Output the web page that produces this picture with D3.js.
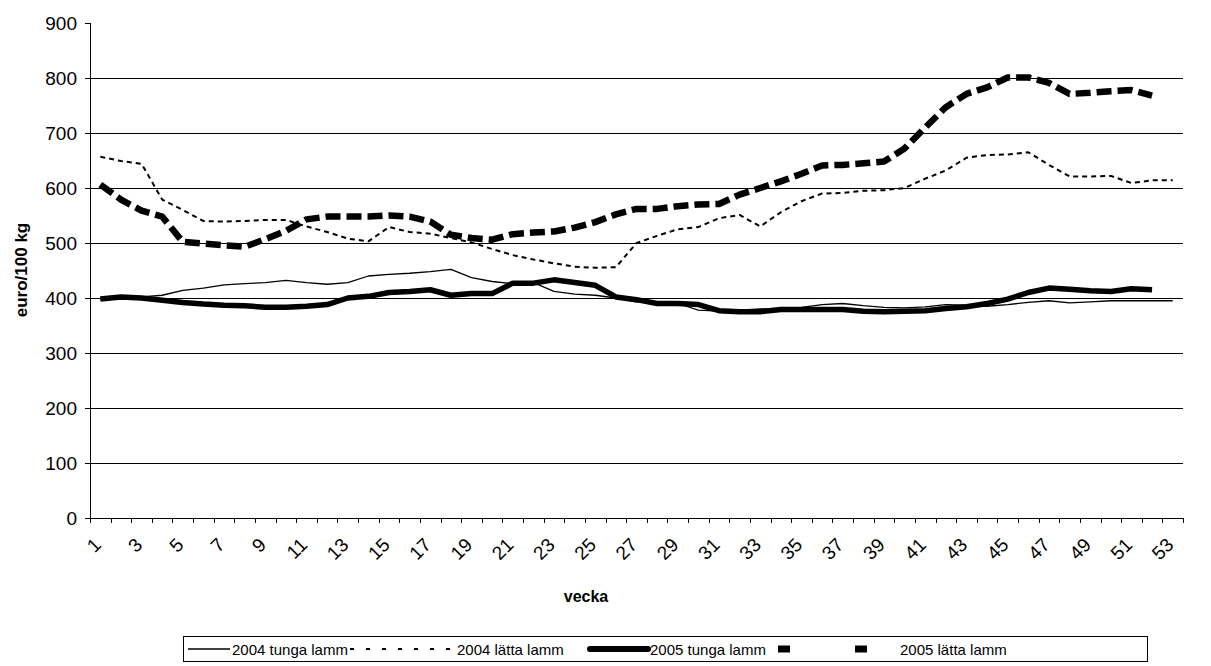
<!DOCTYPE html>
<html>
<head>
  <meta charset="utf-8">
  <script src="https://d3js.org/d3.v7.min.js"></script>
  <style>
      body { margin: 0; background-color: white; }
      svg { display: block; font-family: "Liberation Sans", Arial, sans-serif; }
  </style>
</head>
<body>
<script>
var width = 1211;
var height = 666;

// veckor 1-53
var weeks = [1,2,3,4,5,6,7,8,9,10,11,12,13,14,15,16,17,18,19,20,21,22,23,24,25,26,27,
             28,29,30,31,32,33,34,35,36,37,38,39,40,41,42,43,44,45,46,47,48,49,50,51,52,53];
var weekLabels = [1,3,5,7,9,11,13,15,17,19,21,23,25,27,29,31,33,35,37,39,41,43,45,47,49,51,53];
var yTicks = [0,100,200,300,400,500,600,700,800,900];

var tunga2004 = [397,400,402,405,414,418,424,426,428,432,428,425,428,440,443,445,448,452,437,430,
                 426,428,412,407,405,400,393,392,390,378,376,378,380,380,383,388,390,386,383,382,
                 384,388,387,385,388,392,395,391,393,395,395,395,395];
var latta2004 = [657,649,644,579,560,540,539,540,542,542,530,520,508,503,529,520,517,509,501,489,
                 478,470,463,457,455,456,500,513,525,529,545,551,530,556,576,590,591,595,596,600,
                 617,632,655,660,661,665,642,621,621,622,609,614,614];
var tunga2005 = [398,402,400,396,392,389,387,386,383,383,385,388,400,403,410,412,415,405,408,408,
                 427,427,433,428,423,402,397,390,390,388,377,375,375,379,379,379,379,376,375,376,
                 377,381,384,390,398,410,418,416,413,412,417,415];
var latta2005 = [606,579,559,548,502,499,496,493,507,522,543,548,548,548,550,548,539,515,509,506,
                 516,519,521,528,538,552,562,562,567,570,571,588,600,612,626,641,642,645,648,672,
                 710,747,771,783,801,801,791,771,773,776,778,768];

var seriesNames = ["2004 tunga lamm", "2004 lätta lamm", "2005 tunga lamm", "2005 lätta lamm"];

var plotLeft = 90, plotRight = 1183, plotBottom = 518, plotTop = 23;

var x = d3.scaleBand()
    .domain(weeks)
    .range([plotLeft, plotRight]);
var y = d3.scaleLinear()
    .domain([0, 900])
    .range([plotBottom, plotTop]);

var svg = d3.select("body").append("svg")
    .attr("width", width)
    .attr("height", height);

// stodlinjer
svg.append("g")
    .selectAll("line")
    .data(yTicks.filter(function(d) { return d > 0 && d < 900; }))
    .enter().append("line")
    .attr("x1", plotLeft).attr("x2", plotRight)
    .attr("y1", function(d) { return Math.round(y(d)) + 0.5; })
    .attr("y2", function(d) { return Math.round(y(d)) + 0.5; })
    .attr("stroke", "#000").attr("stroke-width", 1);

// y-axel
var yAxis = svg.append("g");
yAxis.append("line")
    .attr("x1", plotLeft + 0.5).attr("x2", plotLeft + 0.5)
    .attr("y1", plotTop).attr("y2", plotBottom + 0.5)
    .attr("stroke", "#000");
yAxis.selectAll("line.tick")
    .data(yTicks)
    .enter().append("line")
    .attr("class", "tick")
    .attr("x1", plotLeft - 5).attr("x2", plotLeft)
    .attr("y1", function(d) { return Math.round(y(d)) + 0.5; })
    .attr("y2", function(d) { return Math.round(y(d)) + 0.5; })
    .attr("stroke", "#000");
yAxis.selectAll("text")
    .data(yTicks)
    .enter().append("text")
    .attr("x", 77)
    .attr("y", function(d) { return y(d) + 7; })
    .attr("text-anchor", "end")
    .attr("font-size", 19)
    .text(function(d) { return d; });

// x-axel
var xAxis = svg.append("g");
xAxis.append("line")
    .attr("x1", plotLeft).attr("x2", plotRight)
    .attr("y1", plotBottom + 0.5).attr("y2", plotBottom + 0.5)
    .attr("stroke", "#000");
xAxis.selectAll("line.tick")
    .data(weeks.concat([54]))
    .enter().append("line")
    .attr("class", "tick")
    .attr("x1", function(d) { return Math.round(d <= 53 ? x(d) : plotRight) + 0.5; })
    .attr("x2", function(d) { return Math.round(d <= 53 ? x(d) : plotRight) + 0.5; })
    .attr("y1", plotBottom).attr("y2", plotBottom + 5)
    .attr("stroke", "#000");
xAxis.selectAll("text")
    .data(weekLabels)
    .enter().append("text")
    .attr("transform", function(d) {
        return "translate(" + (x(d) + x.bandwidth() / 2 + 2) + ",546) rotate(-45)";
    })
    .attr("text-anchor", "end")
    .attr("font-size", 19)
    .text(function(d) { return d; });

// axeltitlar
svg.append("text")
    .attr("x", 586).attr("y", 602)
    .attr("text-anchor", "middle")
    .attr("font-size", 16).attr("font-weight", "bold")
    .text("vecka");
svg.append("text")
    .attr("transform", "translate(27,270) rotate(-90)")
    .attr("text-anchor", "middle")
    .attr("font-size", 17).attr("font-weight", "bold")
    .text("euro/100 kg");

// linjer
var line = d3.line()
    .x(function(d, i) { return x(weeks[i]) + x.bandwidth() / 2; })
    .y(function(d) { return y(d); });

var styles = [
    { data: tunga2004, w: 1.3, dash: null },
    { data: latta2004, w: 2, dash: "5,4" },
    { data: tunga2005, w: 5.5, dash: null },
    { data: latta2005, w: 6.5, dash: "15,6" }
];

svg.append("g")
    .selectAll("path")
    .data(styles)
    .enter().append("path")
    .attr("d", function(d) { return line(d.data); })
    .attr("fill", "none")
    .attr("stroke", "#000")
    .attr("stroke-width", function(d) { return d.w; })
    .attr("stroke-dasharray", function(d) { return d.dash; })
    .attr("stroke-linejoin", "round");

// teckenförklaring
var legend = svg.append("g");
legend.append("rect")
    .attr("x", 183.5).attr("y", 636.5)
    .attr("width", 964).attr("height", 25)
    .attr("fill", "white").attr("stroke", "#000");

var legendItems = [
    { name: seriesNames[0], x1: 188, x2: 230, w: 1.3, dash: null, cap: "butt" },
    { name: seriesNames[1], x1: 350, x2: 450, w: 2, dash: "4,12", cap: "butt" },
    { name: seriesNames[2], x1: 590, x2: 648, w: 6, dash: null, cap: "round" },
    { name: seriesNames[3], x1: 778, x2: 868, w: 7, dash: "12,65", cap: "butt" }
];
var textX = [232, 457, 650, 900];
var li = legend.selectAll("g.item")
    .data(legendItems)
    .enter().append("g")
    .attr("class", "item");
li.append("line")
    .attr("x1", function(d) { return d.x1; })
    .attr("x2", function(d) { return d.x2; })
    .attr("y1", 649).attr("y2", 649)
    .attr("stroke", "#000")
    .attr("stroke-width", function(d) { return d.w; })
    .attr("stroke-dasharray", function(d) { return d.dash; })
    .attr("stroke-linecap", function(d) { return d.cap; });
li.append("text")
    .attr("x", function(d, i) { return textX[i]; })
    .attr("y", 655)
    .attr("font-size", 15)
    .text(function(d) { return d.name; });
</script>
</body>
</html>
